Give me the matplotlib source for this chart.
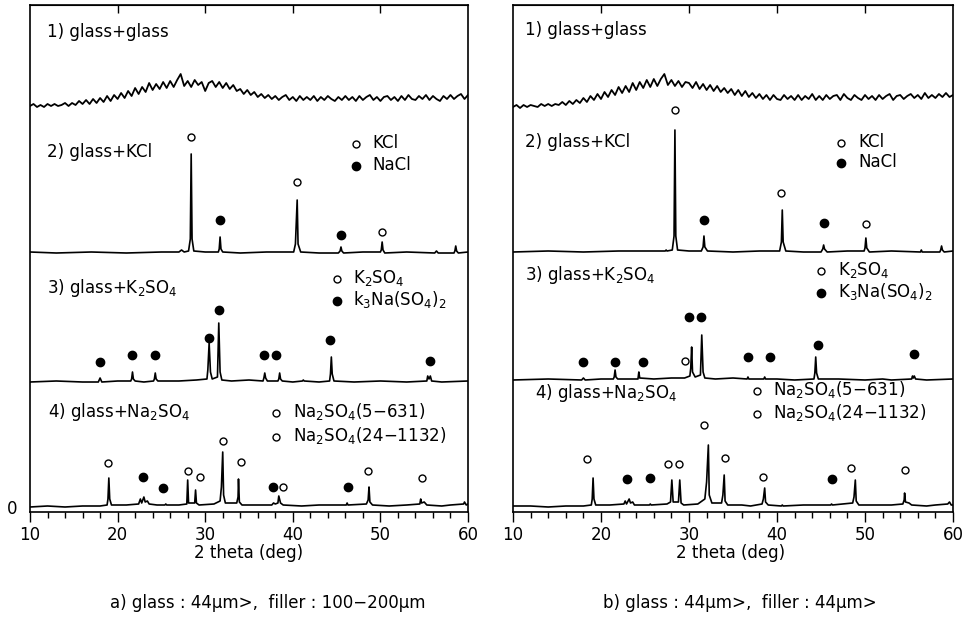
import numpy as np
import matplotlib.pyplot as plt

# XRD patterns of glass + filler.
# Intensities in arbitrary units, relative to each pattern's own baseline.

# 1) glass+glass: amorphous hump, sampled every 0.4 deg from 10 to 60
a_glass = [0, 2, -1, 1, -1, 2, 0, 2, 0, 1,
           3, 0, 3, 1, 5, 2, 6, 2, 7, 3,
           8, 4, 10, 5, 11, 7, 13, 8, 15, 10,
           18, 12, 19, 14, 23, 16, 22, 17, 24, 18,
           25, 19, 26, 32, 20, 25, 19, 26, 21, 24,
           15, 23, 25, 19, 24, 18, 23, 17, 21, 15,
           17, 12, 16, 11, 14, 9, 12, 8, 11, 7,
           10, 6, 9, 11, 6, 9, 5, 10, 6, 9,
           6, 10, 5, 9, 6, 10, 7, 5, 9, 6,
           10, 6, 9, 5, 10, 6, 9, 11, 6, 9,
           5, 9, 10, 6, 9, 5, 10, 6, 11, 7,
           6, 10, 7, 11, 6, 10, 7, 5, 10, 7,
           11, 7, 10, 12, 7, 11]
b_glass = [-1, 1, -2, 1, -1, 1, 0, -1, 2, 0,
           2, 0, 2, 1, 4, 1, 5, 2, 6, 3,
           8, 4, 10, 6, 12, 7, 14, 9, 16, 11,
           19, 13, 20, 14, 23, 16, 24, 18, 26, 19,
           27, 20, 27, 32, 21, 26, 20, 25, 19, 24,
           23, 18, 24, 17, 22, 16, 21, 15, 20, 14,
           18, 13, 17, 11, 16, 10, 15, 9, 13, 8,
           12, 7, 11, 6, 11, 7, 6, 11, 7, 10,
           6, 11, 6, 10, 7, 12, 6, 10, 6, 11,
           7, 10, 11, 6, 12, 8, 6, 11, 8, 6,
           11, 7, 10, 6, 11, 7, 10, 12, 6, 10,
           11, 7, 10, 12, 8, 11, 7, 13, 8, 11,
           8, 12, 9, 13, 9, 11]

# crystalline patterns as (2theta, intensity) vertices
a_kcl = [(10, 1), (13, 0), (17, 1), (21, 0), (25, 1), (27.0, 1), (27.3, 3), (27.6, 1),
         (28.1, 2), (28.3, 14), (28.4, 99), (28.5, 14), (28.7, 2), (30, 1), (31.5, 1),
         (31.6, 4), (31.7, 16), (31.8, 4), (32.0, 1), (34, 0), (37, 1), (40.1, 1),
         (40.3, 9), (40.5, 53), (40.6, 9), (40.9, 1), (43, 0), (45.2, 0), (45.4, 2),
         (45.5, 6), (45.6, 2), (45.8, 0), (48, 1), (50.0, 1), (50.1, 3), (50.2, 11),
         (50.3, 3), (50.5, 0), (53, 1), (56.2, 0), (56.4, 2), (56.6, 0), (58.4, 0),
         (58.5, 2), (58.6, 7), (58.7, 2), (58.9, 0), (60, 1)]
a_k2so4 = [(10, 0), (13, 1), (16, 0), (17.8, 0), (18.0, 4), (18.2, 0), (20, 1), (21.5, 1),
           (21.6, 3), (21.7, 10), (21.8, 3), (22.0, 1), (23, 0), (24.1, 1), (24.2, 3),
           (24.3, 9), (24.4, 3), (24.6, 1), (27, 1), (29, 2), (30.2, 3), (30.3, 12),
           (30.45, 39), (30.6, 10), (30.8, 3), (31.4, 5), (31.55, 59), (31.7, 10),
           (31.9, 2), (33, 1), (35, 2), (36.6, 1), (36.7, 4), (36.8, 9), (36.9, 4),
           (37.1, 1), (38.3, 1), (38.4, 3), (38.5, 9), (38.6, 3), (38.8, 1), (40, 0),
           (41.1, 1), (41.2, 2), (41.3, 1), (43, 0), (44.2, 1), (44.3, 8), (44.4, 25),
           (44.5, 8), (44.7, 1), (47, 0), (50, 1), (53, 0), (55.3, 1), (55.4, 6),
           (55.55, 3), (55.7, 6), (55.85, 1), (57, 0), (60, 1)]
a_na2so4 = [(10, 0), (12, 1), (14, 0), (16, 1), (18, 1), (18.8, 2), (18.9, 8), (19.0, 29),
            (19.1, 8), (19.3, 2), (21, 2), (22.4, 3), (22.6, 8), (22.75, 4), (23.0, 10),
            (23.15, 5), (23.4, 6), (23.6, 3), (24.5, 2), (25.4, 2), (25.5, 3), (25.6, 2),
            (27, 2), (27.9, 3), (28.0, 27), (28.1, 4), (28.8, 4), (28.9, 17), (29.0, 4),
            (29.3, 2), (31, 3), (31.7, 6), (31.85, 20), (32.0, 55), (32.1, 12), (32.3, 4),
            (33.6, 4), (33.75, 10), (33.8, 28), (33.9, 5), (34.2, 2), (36, 2), (37.6, 2),
            (37.8, 4), (38.0, 3), (38.3, 4), (38.4, 11), (38.6, 4), (38.9, 2), (41, 1),
            (43, 2), (46.1, 2), (46.2, 4), (46.3, 2), (48.4, 3), (48.6, 7), (48.7, 20),
            (48.8, 5), (49.1, 2), (51, 1), (53, 2), (54.5, 3), (54.6, 8), (54.7, 4),
            (55.0, 5), (55.3, 2), (57, 1), (58, 2), (59.5, 3), (59.6, 5), (59.8, 2), (60, 3)]

b_kcl = [(10, 0), (14, 1), (18, 0), (22, 1), (26, 1), (27.3, 1), (27.4, 2), (27.5, 1),
         (28.1, 2), (28.3, 16), (28.4, 122), (28.5, 16), (28.7, 2), (30, 1), (31.4, 1),
         (31.6, 5), (31.7, 16), (31.8, 5), (32.1, 1), (35, 0), (38, 1), (40.3, 1),
         (40.5, 10), (40.6, 42), (40.7, 10), (41.0, 1), (43, 0), (45.0, 0), (45.2, 3),
         (45.3, 7), (45.4, 3), (45.7, 0), (48, 1), (49.9, 1), (50.0, 4), (50.1, 14),
         (50.2, 4), (50.5, 0), (53, 1), (56.3, 0), (56.4, 2), (56.5, 0), (58.5, 0),
         (58.6, 2), (58.7, 6), (58.8, 2), (59.0, 0), (60, 1)]
b_k2so4 = [(10, 0), (14, 1), (17.8, 0), (18.0, 2), (18.2, 0), (20, 1), (21.4, 1), (21.5, 3),
           (21.6, 10), (21.7, 3), (21.9, 1), (23, 1), (24.2, 1), (24.3, 8), (24.4, 2),
           (26, 1), (28, 2), (29.5, 2), (30.1, 4), (30.2, 12), (30.3, 33), (30.4, 8),
           (30.7, 3), (31.3, 5), (31.45, 45), (31.6, 8), (31.8, 2), (33, 1), (35, 2),
           (36.6, 1), (36.7, 3), (36.8, 1), (38.5, 1), (38.6, 3), (38.7, 1), (40, 1),
           (42, 0), (44.2, 1), (44.3, 7), (44.4, 23), (44.5, 7), (44.7, 1), (47, 1),
           (50, 0), (52, 1), (53, 0), (55.3, 1), (55.4, 4), (55.5, 2), (55.6, 4),
           (55.75, 1), (57, 0), (60, 1)]
b_na2so4 = [(10, 1), (12, 1), (14, 0), (16, 1), (18, 1), (18.9, 2), (19.0, 8), (19.1, 29),
            (19.2, 8), (19.4, 2), (21, 2), (22.6, 3), (22.75, 6), (22.9, 3), (23.2, 8),
            (23.35, 4), (23.6, 5), (23.8, 2), (25, 2), (25.5, 2), (25.6, 3), (25.7, 2),
            (27.5, 3), (27.9, 5), (28.05, 27), (28.2, 5), (28.8, 5), (28.95, 27), (29.1, 4),
            (29.4, 2), (31, 3), (31.8, 8), (32.0, 25), (32.2, 62), (32.3, 12), (32.6, 4),
            (33.7, 4), (33.85, 12), (34.0, 32), (34.1, 6), (34.4, 2), (36, 2), (37, 1),
            (38.3, 3), (38.45, 8), (38.6, 19), (38.7, 5), (39.0, 2), (40.5, 1), (40.6, 2),
            (40.7, 1), (43, 2), (46.1, 2), (46.2, 3), (46.3, 2), (48.6, 4), (48.75, 10),
            (48.9, 27), (49.0, 6), (49.3, 2), (51, 2), (53, 2), (54.3, 3), (54.45, 7),
            (54.5, 14), (54.6, 5), (55.0, 4), (55.3, 2), (57, 1), (58, 2), (59.4, 3),
            (59.6, 5), (59.8, 2), (60, 2)]

# phase markers (2theta, height above the pattern baseline)
a_kcl_open = [(28.4, 116), (40.5, 71), (50.2, 21)]
a_kcl_fill = [(31.7, 33), (45.5, 18)]
a_k2so4_open = []
a_k2so4_fill = [(18.0, 20), (21.7, 27), (24.3, 27), (30.4, 44), (31.6, 72), (36.7, 27),
                (38.1, 27), (44.2, 42), (55.7, 21)]
a_na_open = [(18.9, 44), (28.0, 36), (29.4, 30), (32.0, 66), (34.1, 45), (38.9, 20),
             (48.6, 36), (54.8, 29)]
a_na_fill = [(22.9, 30), (25.2, 19), (37.7, 20), (46.3, 20)]

b_kcl_open = [(28.4, 142), (40.5, 59), (50.1, 28)]
b_kcl_fill = [(31.7, 32), (45.3, 29)]
b_k2so4_open = [(29.5, 19)]
b_k2so4_fill = [(18.0, 18), (21.6, 18), (24.8, 18), (30.0, 63), (31.4, 63), (36.7, 23),
                (39.2, 23), (44.7, 35), (55.6, 26)]
b_na_open = [(18.4, 48), (27.6, 43), (28.9, 43), (31.7, 82), (34.1, 49), (38.4, 30),
             (48.4, 39), (54.5, 37)]
b_na_fill = [(22.9, 28), (25.6, 29), (46.2, 28)]

# baselines of the four stacked patterns
a_offsets = [401, 254, 125, 0]
b_offsets = [401, 255, 127, 0]

FS = 12
W, H = 967, 627


def marcas(ax, puntos, base, abierto):
    if not puntos:
        return
    x, y = zip(*puntos)
    y = np.array(y) + base
    if abierto:
        ax.plot(x, y, 'o', ms=5, mfc='white', mec='black', mew=1.0, ls='none')
    else:
        ax.plot(x, y, 'o', ms=6, mfc='black', mec='black', ls='none')


def panel(ax, glass, patrones, offsets, marcadores, textos, leyenda):
    xg = np.linspace(10, 60, len(glass))
    ax.plot(xg, np.array(glass) + offsets[0], color='black', lw=1.3)
    for pat, off in zip(patrones, offsets[1:]):
        x, y = zip(*pat)
        ax.plot(x, np.array(y) + off, color='black', lw=1.2)
    for (abiertos, llenos), off in zip(marcadores, offsets[1:]):
        marcas(ax, abiertos, off, True)
        marcas(ax, llenos, off, False)
    for x, y, s in textos:
        ax.text(x, y, s, fontsize=FS, va='baseline', ha='left')
    for x, y, s, abierto in leyenda:
        marcas(ax, [(x, 4)], y, abierto)
        ax.text(x + 1.9, y, s, fontsize=FS, va='baseline', ha='left')

    ax.set_xlim(10, 60)
    ax.set_ylim(-5, 502)
    ax.set_xticks(range(10, 61, 10))
    ax.set_xticks(np.arange(10, 61, 2), minor=True)
    ax.tick_params(axis='x', which='major', direction='out', length=7, width=1.0,
                   labelsize=FS, pad=3)
    ax.tick_params(axis='x', which='minor', direction='out', length=4, width=1.0)
    sec = ax.secondary_xaxis('top')
    sec.set_xticks([20, 30, 40, 50])
    sec.tick_params(direction='in', length=6, width=1.0, labeltop=False)
    for s in ax.spines.values():
        s.set_linewidth(1.2)


fig = plt.figure(figsize=(W / 100, H / 100), dpi=100)
ax_a = fig.add_axes([30 / W, 115 / H, 438 / W, 507 / H])
ax_b = fig.add_axes([513 / W, 115 / H, 440 / W, 507 / H])

panel(ax_a, a_glass, [a_kcl, a_k2so4, a_na2so4], a_offsets,
      [(a_kcl_open, a_kcl_fill), (a_k2so4_open, a_k2so4_fill), (a_na_open, a_na_fill)],
      [(11.9, 470, '1) glass+glass'),
       (11.9, 350, '2) glass+KCl'),
       (11.9, 214, r'3) glass+K$_2$SO$_4$'),
       (12.1, 90, r'4) glass+Na$_2$SO$_4$')],
      [(47.2, 359, 'KCl', True),
       (47.2, 337, 'NaCl', False),
       (45.0, 224, r'K$_2$SO$_4$', True),
       (45.0, 202, r'k$_3$Na(SO$_4$)$_2$', False),
       (38.1, 90, r'Na$_2$SO$_4$(5−631)', True),
       (38.1, 66, r'Na$_2$SO$_4$(24−1132)', True)])

panel(ax_b, b_glass, [b_kcl, b_k2so4, b_na2so4], b_offsets,
      [(b_kcl_open, b_kcl_fill), (b_k2so4_open, b_k2so4_fill), (b_na_open, b_na_fill)],
      [(11.4, 472, '1) glass+glass'),
       (11.4, 360, '2) glass+KCl'),
       (11.4, 227, r'3) glass+K$_2$SO$_4$'),
       (12.5, 109, r'4) glass+Na$_2$SO$_4$')],
      [(47.3, 360, 'KCl', True),
       (47.3, 340, 'NaCl', False),
       (45.0, 232, r'K$_2$SO$_4$', True),
       (45.0, 210, r'K$_3$Na(SO$_4$)$_2$', False),
       (37.7, 112, r'Na$_2$SO$_4$(5−631)', True),
       (37.7, 89, r'Na$_2$SO$_4$(24−1132)', True)])

ax_a.set_yticks([0])
ax_a.set_yticklabels(['0'])
ax_a.tick_params(axis='y', length=0, pad=9, labelsize=FS)
ax_b.set_yticks([])

fig.text(249 / W, 1 - 553 / H, '2 theta (deg)', fontsize=FS, ha='center', va='center')
fig.text(731 / W, 1 - 553 / H, '2 theta (deg)', fontsize=FS, ha='center', va='center')
fig.text(268 / W, 1 - 603 / H, 'a) glass : 44μm>,  filler : 100−200μm',
         fontsize=FS, ha='center', va='center')
fig.text(740 / W, 1 - 603 / H, 'b) glass : 44μm>,  filler : 44μm>',
         fontsize=FS, ha='center', va='center')

fig.savefig('out.png', dpi=100)
